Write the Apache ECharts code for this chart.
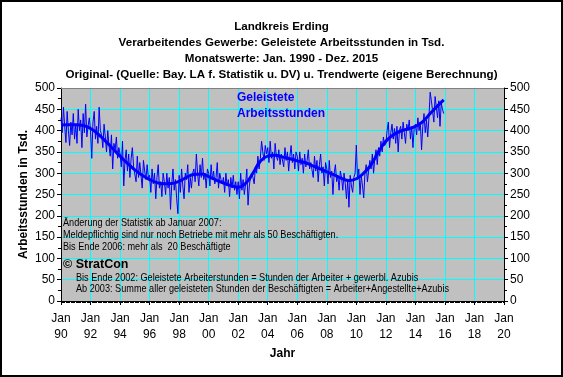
<!DOCTYPE html>
<html><head><meta charset="utf-8">
<script src="https://cdn.jsdelivr.net/npm/echarts@6/dist/echarts.min.js"></script>
<style>html,body{margin:0;padding:0;background:#fff}#c{width:563px;height:377px}</style>
</head><body><div id="c"></div>
<script>
// Monthly original values (Tsd. Arbeitsstunden), Jan 1990 - Dec 2015
const startYear = 1990;
const y1990 = [430, 395, 455, 410, 372, 445, 400, 365, 420, 390, 440, 380];
const y1991 = [415, 370, 450, 400, 425, 360, 440, 395, 462, 385, 410, 430];
const y1992 = [400, 335, 420, 445, 380, 410, 370, 455, 400, 390, 360, 415];
const y1993 = [385, 350, 400, 365, 340, 390, 310, 370, 355, 385, 335, 360];
const y1994 = [345, 315, 375, 270, 330, 355, 305, 345, 290, 335, 360, 315];
const y1995 = [315, 280, 340, 290, 325, 295, 265, 330, 305, 285, 320, 290];
const y1996 = [295, 255, 310, 275, 300, 240, 290, 320, 265, 280, 245, 300];
const y1997 = [280, 250, 300, 265, 290, 215, 275, 310, 260, 285, 240, 205];
const y1998 = [295, 255, 310, 270, 240, 300, 285, 320, 255, 290, 265, 300];
const y1999 = [310, 280, 345, 300, 270, 320, 290, 335, 285, 300, 265, 310];
const y2000 = [300, 270, 320, 285, 305, 275, 290, 325, 265, 300, 285, 275];
const y2001 = [290, 255, 300, 270, 285, 245, 290, 265, 295, 260, 280, 250];
const y2002 = [280, 240, 300, 260, 285, 250, 275, 310, 225, 270, 290, 300];
const y2003 = [290, 275, 315, 300, 340, 310, 335, 375, 350, 330, 365, 345];
const y2004 = [360, 325, 375, 335, 350, 310, 370, 340, 330, 355, 320, 345];
const y2005 = [345, 315, 360, 330, 350, 305, 340, 365, 325, 345, 310, 350];
const y2006 = [340, 305, 350, 320, 335, 300, 345, 315, 330, 355, 310, 325];
const y2007 = [325, 290, 340, 305, 330, 280, 320, 345, 300, 315, 270, 325];
const y2008 = [310, 275, 330, 290, 305, 250, 300, 320, 280, 295, 260, 305];
const y2009 = [290, 260, 300, 275, 240, 285, 220, 295, 270, 255, 290, 300];
const y2010 = [366, 285, 310, 250, 295, 270, 242, 300, 320, 280, 305, 330];
const y2011 = [310, 345, 300, 335, 355, 320, 360, 340, 375, 350, 385, 365];
const y2012 = [370, 400, 420, 360, 395, 415, 380, 405, 370, 410, 350, 400];
const y2013 = [410, 380, 420, 395, 370, 415, 400, 425, 380, 410, 360, 405];
const y2014 = [415, 390, 430, 400, 420, 355, 410, 440, 395, 425, 385, 430];
const y2015 = [490, 470, 445, 420, 480, 455, 430, 470, 410, 465, 450, 440];
const monthly = [].concat(y1990,y1991,y1992,y1993,y1994,y1995,y1996,y1997,y1998,y1999,
  y2000,y2001,y2002,y2003,y2004,y2005,y2006,y2007,y2008,y2009,y2010,y2011,y2012,y2013,y2014,y2015);

// Trend values (eigene Berechnung), at half-year points
const trendYears = [1990.0,1990.5,1991.0,1991.5,1992.0,1992.5,1993.0,1993.5,1994.0,1994.5,1995.0,1995.5,
  1996.0,1996.5,1997.0,1997.5,1998.0,1998.5,1999.0,1999.5,2000.0,2000.5,2001.0,2001.5,2002.0,2002.5,
  2003.0,2003.5,2004.0,2004.5,2005.0,2005.5,2006.0,2006.5,2007.0,2007.5,2008.0,2008.5,2009.0,2009.5,
  2010.0,2010.5,2011.0,2011.5,2012.0,2012.5,2013.0,2013.5,2014.0,2014.5,2015.0,2015.5,2015.92];
const trendValues = [413,414,414,412,405,392,376,358,340,323,308,295,
  285,278,275,276,281,290,297,298,292,284,277,271,267,276,
  300,328,340,342,338,334,329,325,318,311,303,296,288,283,
  287,300,320,350,375,390,399,404,410,421,440,458,472];

const xTickLabels = ['90','92','94','96','98','00','02','04','06','08','10','12','14','16','18','20'];
const yTicks = [0,50,100,150,200,250,300,350,400,450,500];

const rawData = monthly.map((v,i)=>[startYear + i/12, v]);
const trendData = trendYears.map((t,i)=>[t, trendValues[i]]);

const chart = echarts.init(document.getElementById('c'), null, {renderer:'canvas'});
const F = 'Liberation Sans, Arial, sans-serif';
const yAxisCommon = {
  type:'value', min:yTicks[0], max:yTicks[yTicks.length-1], interval:50,
  axisLine:{show:true, lineStyle:{color:'#000', width:1}},
  axisTick:{show:true, inside:false, length:4, lineStyle:{color:'#000'}},
  minorTick:{show:true, splitNumber:2, length:3, lineStyle:{color:'#000'}},
  axisLabel:{color:'#000', fontFamily:F, fontSize:12, margin:6},
};
chart.setOption({
  animation:false,
  backgroundColor:'#fff',
  title:{
    text:'Landkreis Erding\nVerarbeitendes Gewerbe: Geleistete Arbeitsstunden in Tsd.\nMonatswerte: Jan. 1990 - Dez. 2015\nOriginal- (Quelle: Bay. LA f. Statistik u. DV) u. Trendwerte (eigene Berechnung)',
    left:'center', top:14,
    textStyle:{fontFamily:F, fontSize:11.6, fontWeight:'bold', color:'#000', lineHeight:16}
  },
  grid:{left:61, right:59, top:88, bottom:76, show:true, backgroundColor:'#C0C0C0', borderWidth:0},
  xAxis:{
    type:'value', min:1990, max:2020, interval:2,
    name:'Jahr', nameLocation:'middle', nameGap:47, nameMoveOverlap:false,
    nameTextStyle:{fontFamily:F, fontSize:12, fontWeight:'bold', color:'#000'},
    axisLine:{show:true, onZero:false, lineStyle:{color:'#000'}},
    axisTick:{show:true, length:4, lineStyle:{color:'#000'}},
    minorTick:{show:true, splitNumber:24, length:2, lineStyle:{color:'#000'}},
    splitLine:{show:true, lineStyle:{color:'#00FFFF', width:1}},
    axisLabel:{color:'#000', fontFamily:F, fontSize:12, margin:10, lineHeight:16,
      formatter:(v)=>'Jan\n'+xTickLabels[Math.round((v-1990)/2)]}
  },
  yAxis:[
    Object.assign({}, yAxisCommon, {
      position:'left',
      name:'Arbeitsstunden in Tsd.', nameLocation:'middle', nameGap:31, nameRotate:90, nameMoveOverlap:false,
      nameTextStyle:{fontFamily:F, fontSize:12, fontWeight:'bold', color:'#000'},
      splitLine:{show:true, lineStyle:{color:'#00FFFF', width:1}}
    }),
    Object.assign({}, yAxisCommon, {position:'right', splitLine:{show:false}})
  ],
  graphic:[
    {type:'rect', shape:{x:1, y:1, width:561, height:375}, style:{fill:'none', stroke:'#000', lineWidth:2}, z:100},
    {type:'line', shape:{x1:61, y1:88.5, x2:504, y2:88.5}, style:{stroke:'#808080', lineWidth:1}, z:50},
    {type:'text', left:237, top:90, style:{text:'Geleistete\nArbeitsstunden', fill:'#0000FF', font:'bold 12px '+F, lineHeight:16}, z:60},
    {type:'text', x:63, y:217, scaleX:0.87, style:{text:'Änderung der Statistik ab Januar 2007:\nMeldepflichtig sind nur noch Betriebe mit mehr als 50 Beschäftigten.\nBis Ende 2006: mehr als  20 Beschäftigte', fill:'#000', font:'10.5px '+F, lineHeight:12}, z:60},
    {type:'text', left:63, top:258, style:{text:'© StratCon', fill:'#000', font:'bold 12.5px '+F}, z:60},
    {type:'text', x:76, y:272, scaleX:0.87, style:{text:'Bis Ende 2002: Geleistete Arbeiterstunden = Stunden der Arbeiter + gewerbl. Azubis\nAb 2003: Summe aller geleisteten Stunden der Beschäftigten = Arbeiter+Angestellte+Azubis', fill:'#000', font:'10.5px '+F, lineHeight:11.5}, z:60}
  ],
  series:[
    {type:'line', data:rawData, showSymbol:false, lineStyle:{color:'#0000FF', width:1}, z:3},
    {type:'line', data:trendData, smooth:true, showSymbol:false, lineStyle:{color:'#0000FF', width:3}, z:4}
  ]
});
</script></body></html>
